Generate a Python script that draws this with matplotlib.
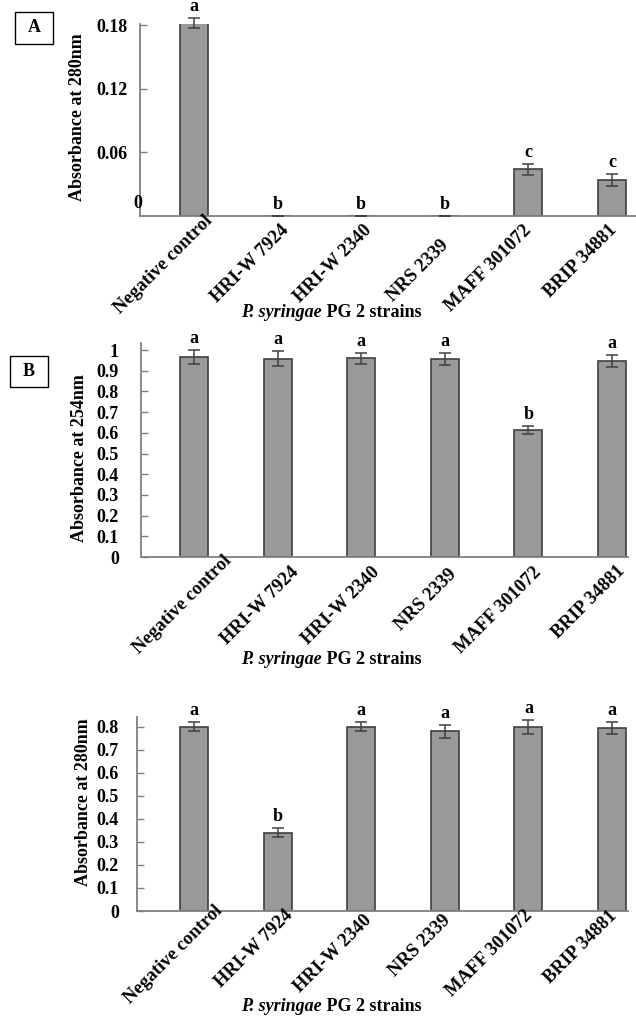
"""
Three bar panels of absorbance for P. syringae PG 2 strains.
"""
import matplotlib
matplotlib.use('Agg')
import matplotlib.pyplot as plt
from matplotlib.patches import Rectangle

plt.rcParams['font.family'] = ['Liberation Serif', 'DejaVu Serif']
plt.rcParams['font.weight'] = 'bold'

# Data
strains = ['Negative control', 'HRI-W 7924', 'HRI-W 2340', 'NRS 2339',
           'MAFF 301072', 'BRIP 34881']

a_values = [0.182, 0.0, 0.0, 0.0, 0.044, 0.034]
a_errors = [0.0045, 0.0, 0.0, 0.0, 0.005, 0.006]
a_letters = ['a', 'b', 'b', 'b', 'c', 'c']
a_ticks = [0.06, 0.12, 0.18]
a_ticklabels = ['0.06', '0.12', '0.18']

b_values = [0.966, 0.957, 0.961, 0.957, 0.614, 0.947]
b_errors = [0.032, 0.036, 0.027, 0.027, 0.02, 0.029]
b_letters = ['a', 'a', 'a', 'a', 'b', 'a']
b_ticks = [0, 0.1, 0.2, 0.3, 0.4, 0.5, 0.6, 0.7, 0.8, 0.9, 1.0]
b_ticklabels = ['0', '0.1', '0.2', '0.3', '0.4', '0.5', '0.6', '0.7', '0.8',
                '0.9', '1']

c_values = [0.80, 0.34, 0.80, 0.78, 0.80, 0.795]
c_errors = [0.02, 0.02, 0.02, 0.03, 0.03, 0.028]
c_letters = ['a', 'b', 'a', 'a', 'a', 'a']
c_ticks = [0, 0.1, 0.2, 0.3, 0.4, 0.5, 0.6, 0.7, 0.8]
c_ticklabels = ['0', '0.1', '0.2', '0.3', '0.4', '0.5', '0.6', '0.7', '0.8']

W, H = 636, 1018
BAR_X0, BAR_STEP = 194, 83.6
GREY = '#808080'

fig = plt.figure(figsize=(W / 100, H / 100), dpi=100)


def add_panel(box, ylim, values, errors, letters, ticks, ticklabels,
              ypad, label_offsets):
    left, right, top, bottom = box
    ax = fig.add_axes([left / W, 1 - bottom / H, (right - left) / W,
                       (bottom - top) / H])
    x = list(range(len(values)))
    ax.bar(x, values, width=0.335, color='#999999', edgecolor='#404040',
           linewidth=1.2, zorder=2)
    ax.errorbar(x, values, yerr=errors, fmt='none', ecolor='#404040',
                elinewidth=1.1, capsize=4.3, capthick=1.1, clip_on=False,
                zorder=3)
    for i in x:
        ax.annotate(letters[i], (i, values[i] + errors[i]), xytext=(0, 3),
                    textcoords='offset pixels', ha='center', va='bottom',
                    fontsize=13, fontweight='bold', annotation_clip=False)
        dx, dy = label_offsets[i]
        ax.annotate(strains[i], (i, 0), xytext=(dx - 4, -(dy - 6)),
                    textcoords='offset pixels', ha='right', va='top',
                    rotation=45, rotation_mode='anchor', fontsize=13.5,
                    fontweight='bold', annotation_clip=False)
    ax.set_xlim((left - BAR_X0) / BAR_STEP, (right - BAR_X0) / BAR_STEP)
    ax.set_ylim(*ylim)
    ax.set_xticks([])
    ax.set_yticks(ticks)
    ax.set_yticklabels(ticklabels, fontsize=13, fontweight='bold')
    ax.tick_params(axis='y', direction='in', length=5, width=1, color=GREY,
                   pad=ypad)
    for side in ['top', 'right']:
        ax.spines[side].set_visible(False)
    for side in ['left', 'bottom']:
        ax.spines[side].set_color(GREY)
        ax.spines[side].set_linewidth(1.3)
    return ax


def px_text(x, y, s, **kw):
    fig.text(x / W, 1 - y / H, s, **kw)


def xlabel(y):
    px_text(322, y, 'P. syringae', ha='right', va='baseline', fontsize=13,
            fontweight='bold', style='italic')
    px_text(322, y, ' PG 2 strains', ha='left', va='baseline', fontsize=13,
            fontweight='bold')


def panel_box(x0, y0, x1, y1, s):
    fig.patches.append(Rectangle((x0 / W, 1 - y1 / H), (x1 - x0) / W,
                                 (y1 - y0) / H, transform=fig.transFigure,
                                 fill=False, edgecolor='black', linewidth=1))
    px_text((x0 + x1) / 2, (y0 + y1) / 2, s, ha='center', va='center',
            fontsize=13, fontweight='bold')


# Panel A
add_panel((140, 636, 24, 216), (0, 0.181), a_values, a_errors, a_letters,
          a_ticks, a_ticklabels, 9,
          [(14, 2), (7, 12), (6, 12), (-1, 27), (-2, 12), (0, 11)])
px_text(138, 203, '0', ha='center', va='center', fontsize=13,
        fontweight='bold')
px_text(78, 117, 'Absorbance at 280nm', rotation=90, ha='center',
        va='center', fontsize=13, fontweight='bold')
xlabel(317)
panel_box(15, 12, 53, 44, 'A')

# Panel B
add_panel((141, 628, 343, 557), (0, 1.034), b_values, b_errors, b_letters,
          b_ticks, b_ticklabels, 16,
          [(33, 1), (17, 13), (14, 13), (7, 15), (8, 13), (8, 11)])
px_text(79, 458, 'Absorbance at 254nm', rotation=90, ha='center',
        va='center', fontsize=13, fontweight='bold')
xlabel(664)
panel_box(10, 356, 48, 387, 'B')

# Panel C
add_panel((137, 628, 717, 911), (0, 0.843), c_values, c_errors, c_letters,
          c_ticks, c_ticklabels, 13,
          [(24, -3), (11, 2), (6, 7), (1, 7), (-1, 2), (0, 2)])
px_text(83, 802, 'Absorbance at 280nm', rotation=90, ha='center',
        va='center', fontsize=13, fontweight='bold')
xlabel(1011)

fig.savefig('out.png', dpi=100)
